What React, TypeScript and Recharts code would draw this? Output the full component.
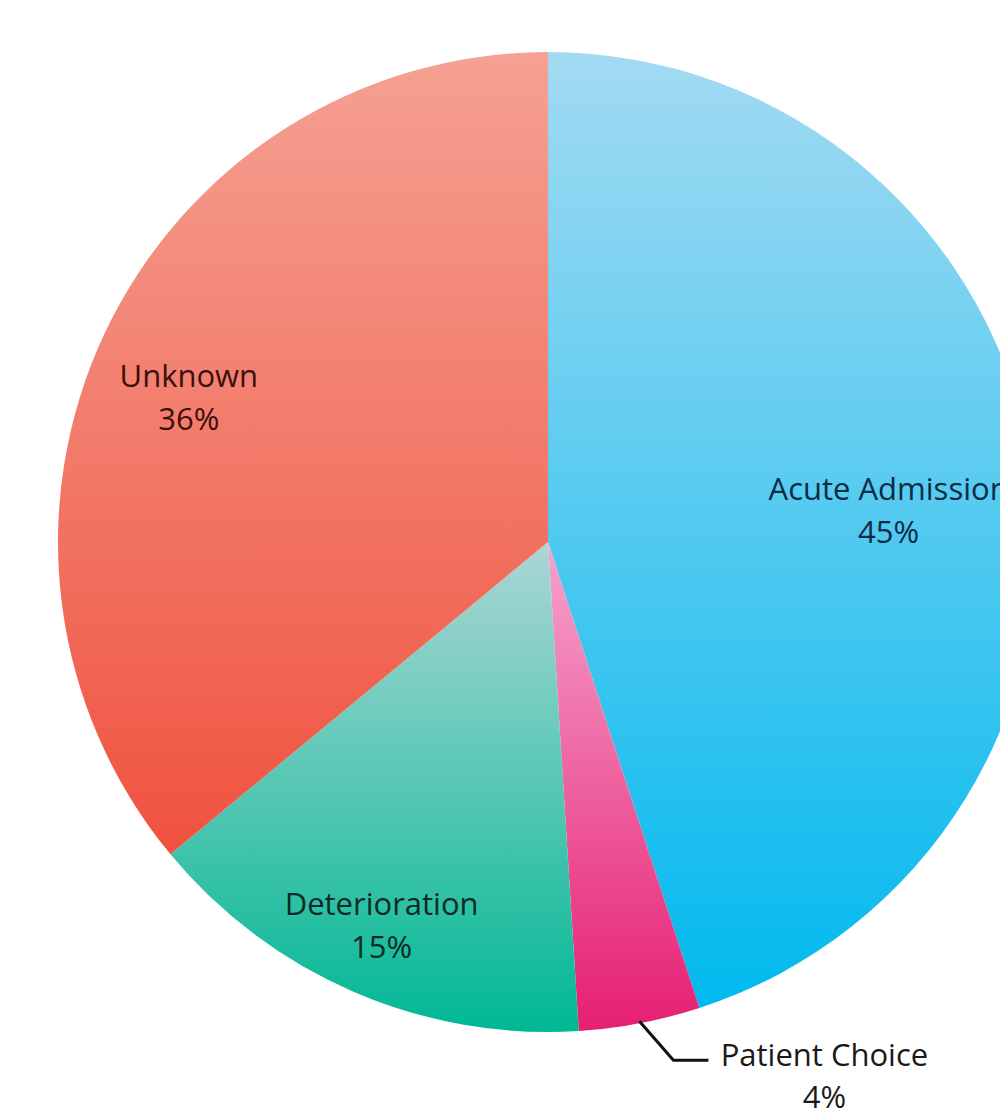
import { PieChart, Pie, Cell } from 'recharts';

const categories = ['Acute Admission', 'Patient Choice', 'Deterioration', 'Unknown'];
const shares = [45, 4, 15, 36];

const data = categories.map((name, i) => ({ name, value: shares[i] }));

// gradient stops per slice (top -> bottom), text colours, label placement
const sliceStyles = [
  { top: '#a3daf2', bottom: '#00b9ee', text: '#0c2b45', r: 0.698, shift: -3.8, outside: false },
  { top: '#f5a3cc', bottom: '#e61f72', text: '#1a1a1a', r: 1.0, shift: 0, outside: true },
  { top: '#acd6d4', bottom: '#00b894', text: '#0f2a24', r: 0.855, shift: 0, outside: false },
  { top: '#f5a193', bottom: '#f0523f', text: '#3a100b', r: 0.79, shift: 3.3, outside: false },
];

const RADIAN = Math.PI / 180;
const FONT = '"Open Sans", "Noto Sans", sans-serif';
const FONT_SIZE = 31;

const renderLabel = (props: any) => {
  const { cx, cy, midAngle, outerRadius, index, name, value } = props;
  const s = sliceStyles[index];
  const a = (midAngle + s.shift) * RADIAN;
  const cos = Math.cos(-a);
  const sin = Math.sin(-a);
  if (s.outside) {
    const sx = cx + (outerRadius - 2) * cos;
    const sy = cy + (outerRadius - 2) * sin;
    const mx = sx + 34;
    const my = sy + 39;
    const ex = mx + 35;
    const tx = ex + 116;
    return (
      <g key={`lbl-${index}`}>
        <polyline points={`${sx},${sy} ${mx},${my} ${ex},${my}`} fill="none" stroke="#111" strokeWidth={3} />
        <text x={tx} y={my + 6} textAnchor="middle" fill={s.text} fontFamily={FONT} fontSize={FONT_SIZE} fontWeight={500}>
          <tspan x={tx} dy={0}>{name}</tspan>
          <tspan x={tx} dy={42}>{`${value}%`}</tspan>
        </text>
      </g>
    );
  }
  const x = cx + outerRadius * s.r * cos;
  const y = cy + outerRadius * s.r * sin;
  return (
    <text key={`lbl-${index}`} x={x} y={y - 11} textAnchor="middle" fill={s.text} fontFamily={FONT} fontSize={FONT_SIZE} fontWeight={500}>
      <tspan x={x} dy={0}>{name}</tspan>
      <tspan x={x} dy={43}>{`${value}%`}</tspan>
    </text>
  );
};

export default function App() {
  return (
    <div style={{ position: 'absolute', left: 0, top: 0, width: 1000, height: 1116, overflow: 'hidden', background: '#fff' }}>
      <PieChart width={1000} height={1116} margin={{ top: 0, right: 0, bottom: 0, left: 0 }}>
        <defs>
          {sliceStyles.map((s, i) => (
            <linearGradient key={i} id={`slice-${i}`} x1="0" y1="0" x2="0" y2="1">
              <stop offset="0%" stopColor={s.top} />
              <stop offset="100%" stopColor={s.bottom} />
            </linearGradient>
          ))}
        </defs>
        <Pie
          data={data}
          dataKey="value"
          nameKey="name"
          cx={548}
          cy={542}
          outerRadius={490}
          startAngle={90}
          endAngle={-270}
          stroke="none"
          label={renderLabel}
          labelLine={false}
          isAnimationActive={false}
        >
          {data.map((d, i) => (
            <Cell key={d.name} fill={`url(#slice-${i})`} />
          ))}
        </Pie>
      </PieChart>
    </div>
  );
}
